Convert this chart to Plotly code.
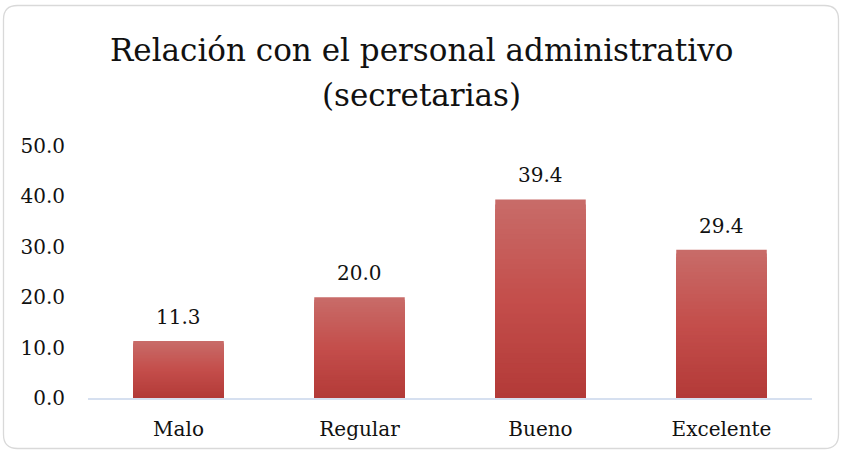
import plotly.graph_objects as go

categories = ["Malo", "Regular", "Bueno", "Excelente"]
values = [11.3, 20.0, 39.4, 29.4]
y_ticks = [0, 10, 20, 30, 40, 50]
title_lines = ["Relación con el personal administrativo", "(secretarias)"]

FONT = "DejaVu Serif"
W, H = 842, 451
ML, MR, MT, MB = 88, 30, 146, 53

# gradient stops top -> bottom
stops = [(0.0, (0xC8, 0x6C, 0x69)), (0.5, (0xC4, 0x4E, 0x4B)), (1.0, (0xB3, 0x3A, 0x38))]

def col(t):
    for (t0, c0), (t1, c1) in zip(stops[:-1], stops[1:]):
        if t0 <= t <= t1:
            f = (t - t0) / (t1 - t0)
            return "rgb(%d,%d,%d)" % tuple(round(a + (b - a) * f) for a, b in zip(c0, c1))
    return "rgb(%d,%d,%d)" % stops[-1][1]

N = 40
fig = go.Figure()
for i in range(N):
    frac = (N - i) / N
    fig.add_trace(go.Bar(
        x=categories, y=[v * frac for v in values],
        marker=dict(color=col((i + 0.5) / N), line=dict(width=0)),
        width=0.5, hoverinfo="skip", showlegend=False,
    ))

for c, v in zip(categories, values):
    fig.add_annotation(x=c, y=v, text=f"{v:.1f}", showarrow=False,
                       yanchor="bottom", yshift=10,
                       font=dict(family=FONT, size=20, color="#111111"))

pw, ph = W - ML - MR, H - MT - MB
def px(x): return (x - ML) / pw
def py(y): return (H - MB - y) / ph

# title lines as annotations
for line, yc in zip(title_lines, [50, 95]):
    fig.add_annotation(x=px(421), xref="paper", y=py(yc), yref="paper", text=line,
                       showarrow=False, xanchor="center", yanchor="middle",
                       font=dict(family=FONT, size=31, color="#111111"))

# rounded border (paper coords)
x0, x1, y0, y1, r = 3.5, 838.5, 5.5, 448.5, 14
path = (f"M {px(x0+r)},{py(y0)} L {px(x1-r)},{py(y0)} Q {px(x1)},{py(y0)} {px(x1)},{py(y0+r)} "
        f"L {px(x1)},{py(y1-r)} Q {px(x1)},{py(y1)} {px(x1-r)},{py(y1)} "
        f"L {px(x0+r)},{py(y1)} Q {px(x0)},{py(y1)} {px(x0)},{py(y1-r)} "
        f"L {px(x0)},{py(y0+r)} Q {px(x0)},{py(y0)} {px(x0+r)},{py(y0)} Z")
fig.add_shape(type="path", xref="paper", yref="paper", path=path,
              line=dict(color="#d9d9d9", width=1.3), layer="below")

fig.update_layout(
    width=W, height=H,
    margin=dict(l=ML, r=MR, t=MT, b=MB, autoexpand=False),
    paper_bgcolor="white", plot_bgcolor="white",
    barmode="overlay", bargap=0.5,
    font=dict(family=FONT, color="#111111"),
    xaxis=dict(showgrid=False, showline=True, linecolor="#d6e0f0", linewidth=1.5,
               ticks="", tickfont=dict(size=20), ticklabelstandoff=12,
               automargin=False, fixedrange=True),
    yaxis=dict(range=[0, 50], tickvals=y_ticks, tickformat=".1f",
               showgrid=False, showline=False, zeroline=False, ticks="",
               tickfont=dict(size=20), ticklabelstandoff=22,
               automargin=False, fixedrange=True),
)

fig.write_html("out.html")
